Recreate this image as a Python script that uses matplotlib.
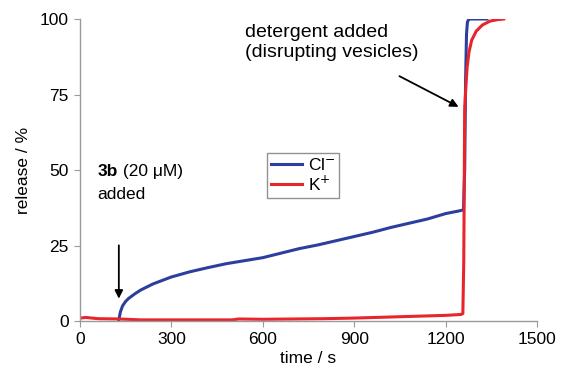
import matplotlib
matplotlib.use("Agg")
import matplotlib.pyplot as plt

plt.rcParams['font.family'] = ['Liberation Sans', 'DejaVu Sans']

# Cl- release (blue)
cl_time = [128, 133, 140, 150, 160, 180, 200, 240, 300, 360, 420, 480, 540, 600,
           660, 720, 780, 840, 900, 960, 1020, 1080, 1140, 1200, 1240, 1258,
           1262, 1265, 1268, 1271, 1276, 1300, 1335]
cl_release = [0.5, 3, 5, 6.5, 7.5, 9, 10.3, 12.3, 14.6, 16.3, 17.7, 19, 20, 21,
              22.5, 24, 25.2, 26.6, 28, 29.4, 31, 32.4, 33.8, 35.6, 36.4, 36.8,
              50, 80, 95, 99, 100, 100, 100]

# K+ release (red)
k_time = [0, 20, 60, 130, 200, 400, 500, 520, 600, 800, 900, 1000, 1100, 1200, 1250,
          1256, 1259, 1262, 1266, 1270, 1276, 1285, 1300, 1320, 1345, 1370, 1390]
k_release = [1, 1.2, 0.8, 0.7, 0.4, 0.4, 0.4, 0.7, 0.6, 0.8, 1.0, 1.3, 1.6, 1.9, 2.2,
             2.5, 20, 70, 78, 84, 89, 93, 96, 98, 99.3, 99.8, 100]

x_ticks = [0, 300, 600, 900, 1200, 1500]
y_ticks = [0, 25, 50, 75, 100]

blue = '#2c3f9e'
red = '#e8252b'
grey = '#9a9a9a'

fig = plt.figure(figsize=(5.62, 3.8), dpi=100)
ax = fig.add_axes([0.142, 0.155, 0.814, 0.795])

ax.plot(cl_time, cl_release, color=blue, lw=2.2, label='Cl$^{-}$')
ax.plot(k_time, k_release, color=red, lw=2.2, label='K$^{+}$')

ax.set_xlim(0, 1500)
ax.set_ylim(0, 100)
ax.set_xticks(x_ticks)
ax.set_yticks(y_ticks)
ax.tick_params(direction='out', length=4, color=grey, labelsize=12.5, pad=4)
for side in ['top', 'right']:
    ax.spines[side].set_visible(False)
for side in ['left', 'bottom']:
    ax.spines[side].set_color(grey)
    ax.spines[side].set_linewidth(1)

ax.set_xlabel('time / s', fontsize=12.5, labelpad=3)
ax.set_ylabel('release / %', fontsize=12.5, labelpad=6)

leg = ax.legend(loc='upper left', bbox_to_anchor=(0.39, 0.585), fontsize=12.5,
                frameon=True, fancybox=False, handlelength=1.8, handletextpad=0.3,
                borderpad=0.25, labelspacing=0.05)
leg.get_frame().set_edgecolor('#777777')
leg.get_frame().set_linewidth(1)

t3b = ax.text(57, 49.5, '3b', fontsize=12.5, fontweight='bold', va='center', ha='left')
ax.annotate(' (20 \u03bcM)', xy=(1, 0.5), xycoords=t3b, fontsize=12.5,
            va='center', ha='left')
ax.text(57, 42, 'added', fontsize=12.5, va='center', ha='left')
ax.annotate('', xy=(128, 6.5), xytext=(128, 26),
            arrowprops=dict(arrowstyle='-|>', color='black', lw=1.3, mutation_scale=12))

ax.text(543, 92.3, 'detergent added\n(disrupting vesicles)', fontsize=14, va='center',
        ha='left', linespacing=1.2)
ax.annotate('', xy=(1250, 70.5), xytext=(1040, 81.5),
            arrowprops=dict(arrowstyle='-|>', color='black', lw=1.3, mutation_scale=12))

fig.savefig('out.png', dpi=100)
